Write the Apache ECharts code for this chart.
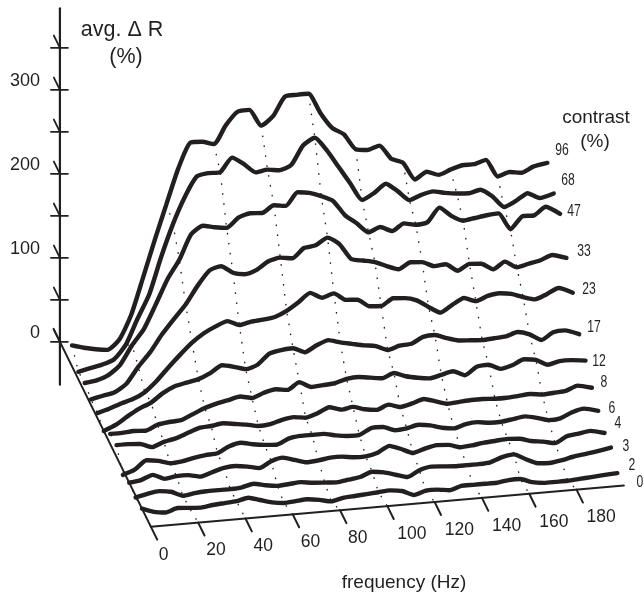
<!DOCTYPE html>
<html><head><meta charset="utf-8">
<style>html,body{margin:0;padding:0;background:#fff}#c{width:644px;height:595px}</style>
<script src="https://cdn.jsdelivr.net/npm/echarts@6/dist/echarts.min.js"></script>
</head><body><div id="c"></div>
<script>
const frequencies=[0,5,10,15,20,25,30,35,40,45,50,55,60,65,70,75,80,85,90,95,100,105,110,115,120,125,130,135,140,145,150,155,160,165,170,175,180,185,190,195,201];
const contrasts=['96','68','47','33','23','17','12','8','6','4','3','2','0'];
const freqTicks=[20,40,60,80,100,120,140,160,180];
const freqLabels=[0,20,40,60,80,100,120,140,160,180];
const valueTicks=[0,50,100,150,200,250,300,350];
const valueLabels=[0,100,200,300];
const c96=[25,21,18,16,27,55,98,142,184,225,254,254,250,271,286,287,267,277,299,300,300,276,257,248,229,227,231,214,208,187,195,190,195,199,199,203,182,186,184,190,193];
const c68=[9,12,15,20,36,66,94,137,175,206,229,232,232,248,239,228,230,228,233,255,263,247,226,205,184,191,201,191,179,184,187,184,182,181,184,175,161,167,175,168,172];
const c47=[11,13,18,29,51,69,97,126,148,177,186,183,181,192,196,195,203,201,216,214,209,202,184,173,161,166,160,168,165,167,183,172,165,167,169,170,150,164,164,173,163];
const c33=[7,10,13,22,41,57,77,94,110,131,148,152,143,140,144,153,156,154,165,167,175,166,147,144,141,135,130,137,136,130,131,122,129,128,120,128,120,123,126,131,126];
const c23=[6,10,15,19,26,38,53,67,80,90,97,102,96,99,100,102,108,117,127,120,124,115,114,105,104,112,111,107,98,90,98,105,100,105,107,105,100,96,101,107,100];
const c17=[0,6,15,23,29,39,46,49,52,58,66,63,59,63,75,78,79,73,80,85,81,78,75,73,67,71,72,79,80,75,71,70,69,70,71,75,71,63,71,72,66];
const c12=[12,12,13,12,18,20,21,27,33,37,40,43,40,45,48,46,54,47,48,49,53,54,52,50,55,50,47,45,48,51,45,54,55,49,52,58,56,49,52,52,50];
const c8=[14,14,13,8,13,16,21,26,27,29,27,25,22,23,27,29,27,31,37,33,35,31,29,34,30,33,37,33,29,30,31,31,30,30,31,32,30,31,32,37,33];
const c6=[-6,-1,9,7,3,4,7,9,10,17,20,17,15,14,20,22,22,22,19,17,17,24,24,19,20,23,21,17,15,19,20,18,18,20,22,19,15,16,22,25,21];
const c4=[0,2,7,1,3,3,0,4,8,9,7,4,11,14,10,6,7,9,9,7,7,10,17,12,6,10,13,12,8,9,11,12,13,12,8,6,3,10,12,14,10];
const c3=[-2,1,3,1,-5,-3,-2,-2,-2,-1,2,-1,-3,-2,-1,-3,-4,-5,-3,-1,4,2,-2,-6,1,4,3,2,2,2,3,8,10,3,-3,-4,-2,1,3,5,8];
const c2=[0,-5,-7,-3,-4,-5,-3,-2,-1,2,-2,-6,-8,-7,-6,-8,-11,-8,-7,-6,-5,-4,-6,-12,-8,-8,-10,-6,-6,-6,-6,-4,-4,-9,-11,-11,-11,-10,-9,-8,-7];
const seriesValues=[c96,c68,c47,c33,c23,c17,c12,c8,c6,c4,c3,c2];

const ink='#231f20';
const sans='"Liberation Sans",Arial,sans-serif';
const frontDepth=12.4, backAxisDepth=-1.9;
function project(f,depth,v){return [72+2.365*f+6.36*depth, 366.4-0.206*f+12.93*depth-0.84*v];}
function plain(data,width,z,extra){return Object.assign({type:'line',data,symbol:'none',silent:true,animation:false,z:z,
  lineStyle:{color:ink,width:width,cap:'round',join:'round'}},extra||{});}
function texts(items,size){return {type:'scatter',symbolSize:0,silent:true,animation:false,z:6,itemStyle:{opacity:1},
  data:items.map(t=>({value:t.at,label:{show:true,opacity:1,formatter:t.text,position:'inside',color:ink,fontFamily:sans,fontSize:t.size||size,align:t.align||'center',verticalAlign:'middle',offset:t.offset||[0,0]}}))};}

const series=[];
[0].concat(freqTicks).forEach(f=>{
  const k=frequencies.indexOf(f);
  const pts=seriesValues.map((vals,i)=>project(f,i,vals[k]));
  pts.push(project(f,frontDepth,0));
  series.push({type:'line',data:pts,symbol:'none',silent:true,animation:false,z:1,lineStyle:{color:ink,width:1.3,type:[1.6,8.4]}});
});
seriesValues.forEach((vals,i)=>{
  series.push(plain(vals.map((v,k)=>project(frequencies[k],i,v)),4.4,3,{smooth:0.2}));
});
const vTop=397,vBottom=-51;
series.push(plain([project(0,backAxisDepth,vBottom),project(0,backAxisDepth,vTop)],2.2,4));
valueTicks.forEach(v=>{
  const p=project(0,backAxisDepth,v);
  series.push(plain([[p[0]-9,p[1]],[p[0]+8,p[1]]],1.8,4));
  series.push(plain([project(0,backAxisDepth-0.95,v),p],1.8,4));
});
series.push(plain([project(0,-2.9,0),project(0,frontDepth+1,0)],2,4));
series.push(plain([project(0,frontDepth,0),project(200,frontDepth,0)],2,4));
freqTicks.forEach(f=>series.push(plain([project(f,frontDepth,0),project(f,frontDepth+1,0)],2,4)));
series.push(texts(valueLabels.map(v=>({at:project(0,backAxisDepth,v),text:String(v),align:'right',offset:[-20,-9]})),18));
series.push(texts(freqLabels.map(f=>({at:project(f,frontDepth,0),text:String(f),align:'left',offset:[f<100?8:10,28]})),17.5));
const titles=[{text:'avg. \u0394 R',at:[122,30],size:21.5},{text:'(%)',at:[126,57],size:21.5},{text:'contrast',at:[596,118]},{text:'(%)',at:[595,142]},{text:'frequency (Hz)',at:[404,583]}];
series.push(texts(titles,19));

const contrastLabelSpots=[[562,151],[568,181],[574,212],[584,252],[589,290],[594,328],[599,362],[604,383],[612,409],[618,424],[626,447],[632,466],[640,483]];
const graphic=contrasts.map((c,i)=>({type:'text',x:contrastLabelSpots[i][0],y:contrastLabelSpots[i][1],scaleX:0.76,z:10,silent:true,
  style:{text:c,fill:ink,font:'16px "Liberation Sans"',textAlign:'center',textVerticalAlign:'middle'}}));

const chart=echarts.init(document.getElementById('c'),null,{renderer:'canvas',width:644,height:595});
chart.setOption({animation:false,backgroundColor:'#fff',
  grid:{left:0,right:0,top:0,bottom:0},
  xAxis:{type:'value',min:0,max:644,show:false},
  yAxis:{type:'value',min:0,max:595,inverse:true,show:false},
  graphic,series});
</script></body></html>
